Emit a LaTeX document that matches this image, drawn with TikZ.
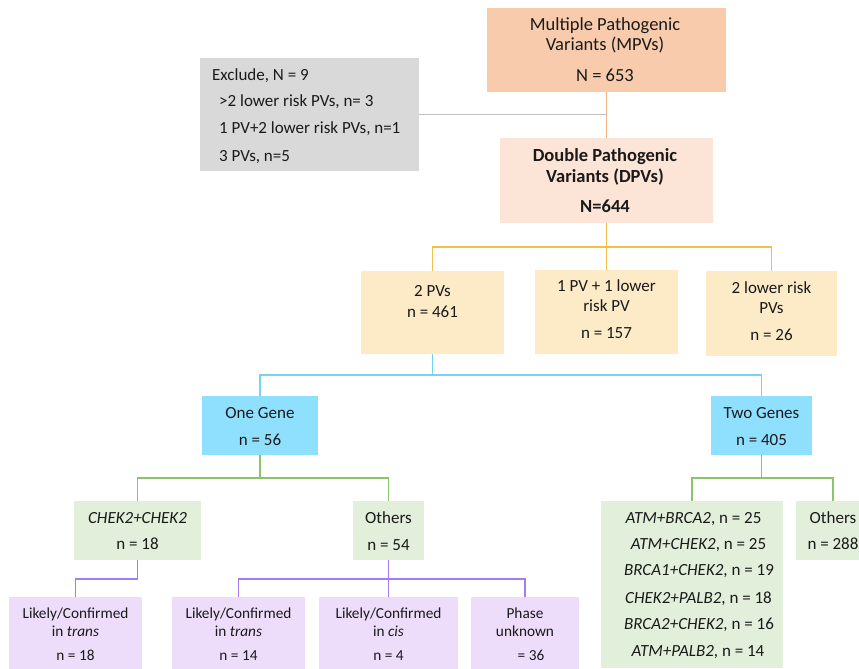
\documentclass[tikz,border=0pt]{standalone}
\usepackage{fontspec}
\setmainfont{Carlito}
\definecolor{cmpv}{HTML}{F8CBAD}
\definecolor{cdpv}{HTML}{FCE4D6}
\definecolor{cexc}{HTML}{D9D9D9}
\definecolor{cyel}{HTML}{FDEBC8}
\definecolor{cblu}{HTML}{8FE0FF}
\definecolor{cgrn}{HTML}{E2EFDA}
\definecolor{cpur}{HTML}{EDDDFB}
\definecolor{lsal}{HTML}{F4B183}
\definecolor{lgry}{HTML}{BFBFBF}
\definecolor{lora}{HTML}{F5BE4A}
\definecolor{lblu}{HTML}{75D4F5}
\definecolor{lgrn}{HTML}{8CC46C}
\definecolor{lpur}{HTML}{A57BF0}
\definecolor{ink}{HTML}{1A1A1A}
\begin{document}
\begin{tikzpicture}[x=1pt,y=-1pt,
  boxnode/.style={draw=none,inner sep=0pt,outer sep=0pt,rectangle},
  txt/.style={inner sep=0pt,anchor=mid,yshift=-4pt,text=ink,font=\fontsize{17}{20}\selectfont},
  txttop/.style={txt,font=\fontsize{18.5}{22}\selectfont},
  txtb/.style={txt,font=\fontsize{18.5}{22}\selectfont\bfseries},
  txtl/.style={txt,anchor=mid west},
  txts/.style={txt,font=\fontsize{15.3}{18}\selectfont},
  conn/.style={line width=1.2pt}
]
\useasboundingbox (0,0) rectangle (859,669);
\clip (0,0) rectangle (859,669);
% boxes
\node[boxnode,fill=cmpv,minimum width=239pt,minimum height=84pt] (mpv) at (606.5,50) {};
\node[boxnode,fill=cexc,minimum width=219pt,minimum height=113pt] (exc) at (309.5,114.5) {};
\node[boxnode,fill=cdpv,minimum width=213pt,minimum height=85pt] (dpv) at (606.5,180.5) {};
\node[boxnode,fill=cyel,minimum width=143pt,minimum height=83pt] (pvtwo) at (432.5,312.5) {};
\node[boxnode,fill=cyel,minimum width=143pt,minimum height=84pt] (pvone) at (606.5,312) {};
\node[boxnode,fill=cyel,minimum width=131pt,minimum height=85pt] (lowtwo) at (771.5,313.5) {};
\node[boxnode,fill=cblu,minimum width=116pt,minimum height=59pt] (onegene) at (260,425.5) {};
\node[boxnode,fill=cblu,minimum width=101pt,minimum height=59pt] (twogene) at (761.5,425.5) {};
\node[boxnode,fill=cgrn,minimum width=127pt,minimum height=59pt] (chek) at (137.5,530.5) {};
\node[boxnode,fill=cgrn,minimum width=71pt,minimum height=59pt] (othl) at (388.5,530.5) {};
\node[boxnode,fill=cgrn,minimum width=182pt,minimum height=167pt] (glist) at (692,584.5) {};
\node[boxnode,fill=cgrn,minimum width=74pt,minimum height=59pt] (othr) at (833,530.5) {};
\node[boxnode,fill=cpur,minimum width=133pt,minimum height=72pt] (pa) at (75.5,633) {};
\node[boxnode,fill=cpur,minimum width=133pt,minimum height=72pt] (pb) at (238.5,633) {};
\node[boxnode,fill=cpur,minimum width=139pt,minimum height=72pt] (pc) at (388.5,633) {};
\node[boxnode,fill=cpur,minimum width=108pt,minimum height=72pt] (pd) at (525,633) {};
% connectors
\draw[conn,lsal] (mpv.south) -- (dpv.north);
\draw[conn,lgry] (exc.east) -- (exc.east -| mpv.south);
\coordinate (ob) at (606.5,247);
\draw[conn,lora] (dpv.south) -- (ob);
\draw[conn,lora] (ob) -| (pvtwo.north);
\draw[conn,lora] (ob) -- (pvone.north);
\draw[conn,lora] (ob) -| (lowtwo.north);
\coordinate (bb) at (432.5,375);
\draw[conn,lblu] (pvtwo.south) -- (bb);
\draw[conn,lblu] (bb) -| (onegene.north);
\draw[conn,lblu] (bb) -| (twogene.north);
\coordinate (gl) at (260,478);
\draw[conn,lgrn] (onegene.south) -- (gl);
\draw[conn,lgrn] (gl) -| (chek.north);
\draw[conn,lgrn] (gl) -| (othl.north);
\coordinate (gr) at (761.5,478);
\draw[conn,lgrn] (twogene.south) -- (gr);
\draw[conn,lgrn] (gr) -| (glist.north);
\draw[conn,lgrn] (gr) -| (othr.north);
\coordinate (ql) at (137.5,579);
\draw[conn,lpur] (chek.south) -- (ql);
\draw[conn,lpur] (ql) -| (pa.north);
\coordinate (qr) at (388.5,579);
\draw[conn,lpur] (othl.south) -- (qr);
\draw[conn,lpur] (qr) -| (pb.north);
\draw[conn,lpur] (qr) -- (pc.north);
\draw[conn,lpur] (qr) -| (pd.north);
% texts
\node[txttop] (mpva) at (605,24) {Multiple Pathogenic};
\node[txttop] (mpvb) at (605,44) {Variants (MPVs)};
\node[txttop] (mpvc) at (605,75) {N = 653};
\node[txtl] (exca) at (212,74) {Exclude, N = 9};
\node[txtl] (excb) at (219,100) {>2 lower risk PVs, n= 3};
\node[txtl] (excc) at (219,127) {1 PV+2 lower risk PVs, n=1};
\node[txtl] (excd) at (219,155) {3 PVs, n=5};
\node[txtb] (dpva) at (605,155) {Double Pathogenic};
\node[txtb] (dpvb) at (605,176) {Variants (DPVs)};
\node[txtb] (dpvc) at (605,206) {N=644};
\node[txt] (pvtwoa) at (432.5,290) {2 PVs};
\node[txt] (pvtwob) at (432.5,311) {n = 461};
\node[txt] (pvonea) at (606.5,285) {1 PV + 1 lower};
\node[txt] (pvoneb) at (606.5,305) {risk PV};
\node[txt] (pvonec) at (606.5,332) {n = 157};
\node[txt] (lowtwoa) at (771.5,287) {2 lower risk};
\node[txt] (lowtwob) at (771.5,307) {PVs};
\node[txt] (lowtwoc) at (771.5,334) {n = 26};
\node[txt] (onegenea) at (260,412) {One Gene};
\node[txt] (onegeneb) at (260,439) {n = 56};
\node[txt] (twogenea) at (761.5,412) {Two Genes};
\node[txt] (twogeneb) at (761.5,439) {n = 405};
\node[txt] (cheka) at (137.5,517) {\textit{CHEK2+CHEK2}};
\node[txt] (chekb) at (137.5,543) {n = 18};
\node[txt] (othla) at (388.5,517) {Others};
\node[txt] (othlb) at (388.5,544) {n = 54};
\node[txt] (othra) at (833,517) {Others};
\node[txt] (othrb) at (833,543) {n = 288};
\node[txt] (gla) at (693.5,517) {\textit{ATM+BRCA2}, n = 25};
\node[txt] (glb) at (698.5,543) {\textit{ATM+CHEK2}, n = 25};
\node[txt] (glc) at (699,569) {\textit{BRCA1+CHEK2}, n = 19};
\node[txt] (gld) at (698.5,597) {\textit{CHEK2+PALB2}, n = 18};
\node[txt] (gle) at (699,623) {\textit{BRCA2+CHEK2}, n = 16};
\node[txt] (glf) at (698,650) {\textit{ATM+PALB2}, n = 14};
\node[txts] (paa) at (75.5,612) {Likely/Confirmed};
\node[txts] (pab) at (75.5,630) {in \textit{trans}};
\node[txts] (pac) at (75.5,654) {n = 18};
\node[txts] (pba) at (238.5,612) {Likely/Confirmed};
\node[txts] (pbb) at (238.5,630) {in \textit{trans}};
\node[txts] (pbc) at (238.5,654) {n = 14};
\node[txts] (pca) at (388.5,612) {Likely/Confirmed};
\node[txts] (pcb) at (388.5,630) {in \textit{cis}};
\node[txts] (pcc) at (388.5,654) {n = 4};
\node[txts] (pda) at (525,612) {Phase};
\node[txts] (pdb) at (525,630) {unknown};
\node[txts] (pdc) at (531,654) {= 36};
\end{tikzpicture}
\end{document}
